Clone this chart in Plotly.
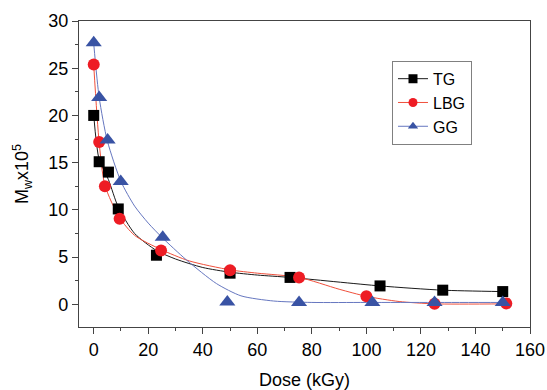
import plotly.graph_objects as go

# Measured points
tg_x = [0, 2, 5.4, 9, 23, 50, 72, 105, 128, 150]
tg_y = [20, 15.1, 14, 10.1, 5.2, 3.3, 2.85, 1.95, 1.5, 1.35]
lbg_x = [0, 2, 4.1, 9.5, 24.7, 50, 75.3, 100, 125, 151.3]
lbg_y = [25.4, 17.2, 12.5, 9.05, 5.7, 3.6, 2.85, 0.85, 0.05, 0.1]
gg_x = [0, 2, 5.1, 9.9, 25.3, 49, 75.3, 102.2, 125, 150]
gg_y = [27.7, 21.9, 17.4, 13, 7.1, 0.25, 0.2, 0.2, 0.2, 0.2]

# Fitted curves
tg_fit_x = [0, 2, 5.4, 9, 15, 23, 30, 40, 50, 60, 72, 105, 128, 150]
tg_fit_y = [20, 15.3, 13.2, 10.3, 7.5, 5.7, 4.8, 3.9, 3.4, 3.1, 2.85, 1.95, 1.5, 1.35]
lbg_fit_x = [0, 2, 4.1, 9.4, 15, 24.7, 35, 50, 60, 75.3, 90, 100, 112, 125, 151]
lbg_fit_y = [25.3, 17.1, 12.6, 9.2, 7.3, 5.8, 4.6, 3.65, 3.3, 2.85, 1.6, 0.85, 0.3, 0.05, 0.05]
gg_fit_x = [0, 2, 5, 10, 15, 20, 25, 34, 45, 54, 66, 80, 100, 125, 150]
gg_fit_y = [27.6, 21.9, 17.3, 13, 10.4, 8.6, 7.1, 4.7, 2.2, 0.9, 0.35, 0.2, 0.2, 0.2, 0.2]

names = ["TG", "LBG", "GG"]
x_ticks = [0, 20, 40, 60, 80, 100, 120, 140, 160]
y_ticks = [0, 5, 10, 15, 20, 25, 30]

marker_colors = ["#000000", "#ee1c24", "#3953a4"]
line_colors = ["#1a1a1a", "#f0503c", "#6677c0"]
symbols = ["square", "circle", "triangle-up"]
sizes = [11, 12, 14]

series = [
    (tg_x, tg_y, tg_fit_x, tg_fit_y),
    (lbg_x, lbg_y, lbg_fit_x, lbg_fit_y),
    (gg_x, gg_y, gg_fit_x, gg_fit_y),
]

fig = go.Figure()
for i, (px, py, fx, fy) in enumerate(series):
    fig.add_trace(go.Scatter(x=fx, y=fy, mode="lines", showlegend=False,
                             line=dict(color=line_colors[i], width=1, shape="spline", smoothing=0.7),
                             hoverinfo="skip"))
for i, (px, py, fx, fy) in enumerate(series):
    fig.add_trace(go.Scatter(x=px, y=py, mode="markers", showlegend=False,
                             marker=dict(symbol=symbols[i], size=sizes[i], color=marker_colors[i],
                                         line=dict(width=0))))
for i in range(3):
    fig.add_trace(go.Scatter(x=[None], y=[None], mode="lines+markers", name=names[i],
                             line=dict(color=line_colors[i], width=1),
                             marker=dict(symbol=symbols[i], size=9, color=marker_colors[i])))

axis_common = dict(showline=True, linecolor="#444444", linewidth=1.3, mirror=True,
                   ticks="outside", ticklen=6, tickwidth=1.3, tickcolor="#444444",
                   showgrid=False, zeroline=False, automargin=False,
                   tickfont=dict(size=18, color="#000000"))

fig.update_xaxes(range=[-5.4, 160], tickvals=x_ticks, ticktext=[str(v) for v in x_ticks],
                 minor=dict(dtick=10, tick0=0, ticks="outside", ticklen=3, tickwidth=1.2, tickcolor="#444444"),
                 title=dict(text="Dose (kGy)", font=dict(size=18, color="#000000"), standoff=14),
                 **axis_common)
fig.update_yaxes(range=[-2.4, 30], tickvals=y_ticks, ticktext=[str(v) for v in y_ticks],
                 minor=dict(dtick=2.5, tick0=0, ticks="outside", ticklen=3, tickwidth=1.2, tickcolor="#444444"),
                 title=dict(text="M<sub>w</sub>x10<sup>5</sup>", font=dict(size=18, color="#000000"), standoff=14),
                 **axis_common)

fig.update_layout(
    width=547, height=390,
    margin=dict(l=79, r=17, t=21, b=63, autoexpand=False),
    paper_bgcolor="white", plot_bgcolor="white",
    font=dict(family="Arial, Liberation Sans, sans-serif", color="#000000"),
    legend=dict(x=0.694, y=0.87, xanchor="left", yanchor="top",
                bordercolor="#808080", borderwidth=1, bgcolor="white",
                font=dict(size=16, color="#000000"), tracegroupgap=0,
                itemwidth=30),
)

fig.write_html("out.html", config={"displayModeBar": False},
               post_script="document.body.style.margin='0';document.body.style.padding='0';")
